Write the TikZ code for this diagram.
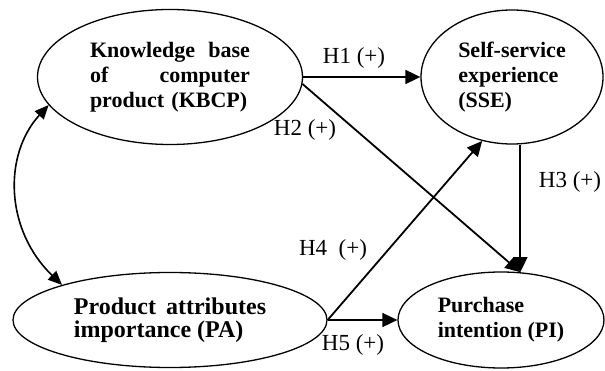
\documentclass[tikz,border=0pt]{standalone}
\usepackage{fontspec}
\setmainfont{Liberation Serif}
\usetikzlibrary{arrows.meta, shapes.geometric}

\begin{document}
\begin{tikzpicture}[
        x=0.5pt, y=0.5pt,
        construct/.style={ellipse, draw, line width=0.65pt, inner sep=0pt, align=left,
            font=\fontsize{11}{12.5}\selectfont\bfseries},
        hyp/.style={inner sep=0pt, font=\fontsize{11.5}{13}\selectfont},
        arrow/.style={-{Triangle[length=7.5pt, width=7pt]}, line width=0.9pt},
        dblarrow/.style={{Triangle[length=7pt, width=6pt]}-{Triangle[length=7pt, width=6pt]}, line width=0.8pt}
    ]
        \useasboundingbox (0,0) rectangle (605,370);
        % constructs
        \node[construct, minimum width=132.5pt, minimum height=67.5pt, text width=80pt] (kbcp) at (170,293)
            {Knowledge\hfill base\\ of\hfill computer\\ product~(KBCP)};
        \node[construct, minimum width=91pt, minimum height=67pt] (sse) at (512,293)
            {Self-service\\ experience\\ (SSE)};
        \node[construct, minimum width=157pt, minimum height=47.5pt,
            font=\fontsize{12}{11.5}\selectfont\bfseries] (pa) at (170,50)
            {Product\, attributes\\ importance (PA)};
        \node[construct, minimum width=103pt, minimum height=48pt] (pi) at (501,50)
            {Purchase\\ intention (PI)};
        % hypothesis labels
        \node[hyp] (h1) at (354,312) {H1 (+)};
        \node[hyp] (h2) at (305,240) {H2 (+)};
        \node[hyp] (h3) at (570,188) {H3 (+)};
        \node[hyp] (h4) at (333,120) {H4\ \ (+)};
        \node[hyp] (h5) at (353,25) {H5 (+)};
        % paths
        \draw[arrow] (kbcp.east) -- (sse.west);
        \draw[arrow] (kbcp.-3) -- (pi.68);
        \draw[arrow, line width=1pt] (sse.south -| pi.68) -- (pi.68);
        \draw[arrow] (pa.east) -- (sse.245);
        \draw[arrow] (pa.east) -- (pi.west);
        \draw[dblarrow] (kbcp.193) .. controls (3,215) and (5,140) .. (pa.162);
    \end{tikzpicture}
\end{document}
